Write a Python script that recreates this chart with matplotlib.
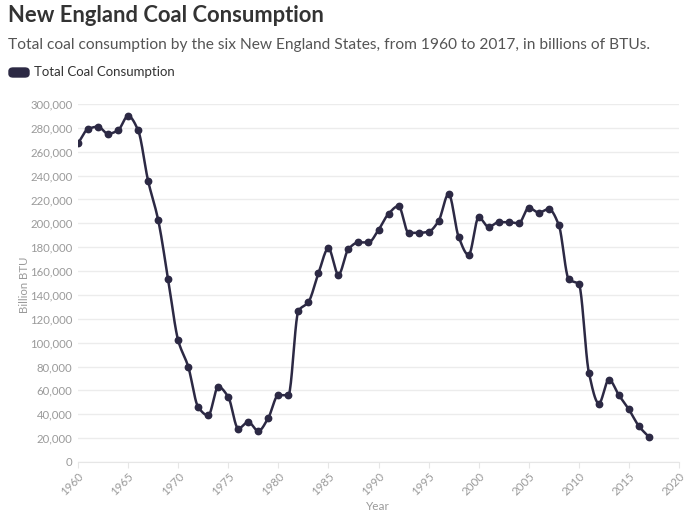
import numpy as np
import matplotlib
matplotlib.use("Agg")
import matplotlib.pyplot as plt
from matplotlib.patches import FancyBboxPatch

years = list(range(1960, 2018))
consumption = [267000, 279000, 281000, 275000, 278000, 290000, 278000, 235500, 203000, 153000,
               102000, 80000, 46000, 39000, 63000, 54500, 28000, 33500, 26000, 37000,
               56000, 56000, 126500, 134000, 158000, 179000, 157000, 178500, 184000, 184000,
               194500, 208000, 214500, 192000, 192000, 193000, 202000, 224600, 188600, 173500,
               205000, 197000, 201000, 201000, 200000, 213000, 209000, 212000, 198600, 153000,
               149000, 75000, 49000, 69000, 56000, 44000, 30000, 21000]
x_ticks = list(range(1960, 2021, 5))
y_ticks = list(range(0, 300001, 20000))

title = "New England Coal Consumption"
subtitle = "Total coal consumption by the six New England States, from 1960 to 2017, in billions of BTUs."
series_name = "Total Coal Consumption"

color = "#2c2944"
font = "Lato"


def monotone(x, y, n=20):
    x = np.asarray(x, float); y = np.asarray(y, float)
    h = np.diff(x); d = np.diff(y) / h
    m = np.zeros_like(y)
    for i in range(1, len(y) - 1):
        if d[i - 1] * d[i] <= 0:
            m[i] = 0
        else:
            w1 = 2 * h[i] + h[i - 1]; w2 = h[i] + 2 * h[i - 1]
            m[i] = (w1 + w2) / (w1 / d[i - 1] + w2 / d[i])
    m[0] = d[0]; m[-1] = d[-1]
    xs, ys = [], []
    for i in range(len(x) - 1):
        t = np.linspace(0, 1, n, endpoint=False)
        h00 = 2*t**3 - 3*t**2 + 1; h10 = t**3 - 2*t**2 + t
        h01 = -2*t**3 + 3*t**2; h11 = t**3 - t**2
        xs.append(x[i] + t * h[i])
        ys.append(h00*y[i] + h10*h[i]*m[i] + h01*y[i+1] + h11*h[i]*m[i+1])
    xs.append([x[-1]]); ys.append([y[-1]])
    return np.concatenate(xs), np.concatenate(ys)


fig = plt.figure(figsize=(6.95, 5.26), dpi=100)
ax = fig.add_axes([78/695, 1 - 462/526, (679-78)/695, (462-104)/526])

sx, sy = monotone(years, consumption)
ax.plot(sx, sy, color=color, lw=1.8, zorder=3, solid_capstyle="round")
ax.plot(years, consumption, 'o', color=color, ms=4.6, zorder=4)

ax.set_xlim(1960, 2020)
ax.set_ylim(0, 300000)
ax.set_xticks(x_ticks)
ax.set_xticklabels([str(v) for v in x_ticks], rotation=45, ha="right", va="top",
                   rotation_mode="anchor", fontsize=8.3, color="#9a9a9a", family=font)
ax.set_yticks(y_ticks)
ax.set_yticklabels([f"{v:,}" for v in y_ticks], fontsize=8.2, color="#9a9a9a", family=font)
ax.tick_params(axis="y", length=0, pad=4)
ax.tick_params(axis="x", length=4, color="#e6e6e6", pad=2)
ax.grid(axis="y", color="#ececec", lw=1)
ax.set_axisbelow(True)
for s in ["top", "right", "left"]:
    ax.spines[s].set_visible(False)
ax.spines["bottom"].set_color("#e6e6e6")
ax.spines["bottom"].set_zorder(1)

fig.text(378/695, 1 - 507/526, "Year", ha="center", va="center", fontsize=8.5,
         color="#9a9a9a", family=font)
fig.text(24/695, 1 - 285/526, "Billion BTU", ha="center", va="center", rotation=90,
         fontsize=8.2, color="#9a9a9a", family=font)

fig.text(8/695, 1 - 15/526, title, ha="left", va="center", fontsize=15.8,
         fontweight="bold", color="#333333", family=font)
fig.text(8/695, 1 - 45/526, subtitle, ha="left", va="center", fontsize=11.2,
         color="#555555", family=font)

sw = FancyBboxPatch((9/695, 1 - 77/526), 20/695, 9/526,
                    boxstyle="round,pad=0,rounding_size=0.006",
                    transform=fig.transFigure, color=color)
fig.patches.append(sw)
fig.text(34/695, 1 - 72/526, series_name, ha="left", va="center", fontsize=9.5,
         color="#333333", family=font)

fig.savefig("out.png", dpi=100)
